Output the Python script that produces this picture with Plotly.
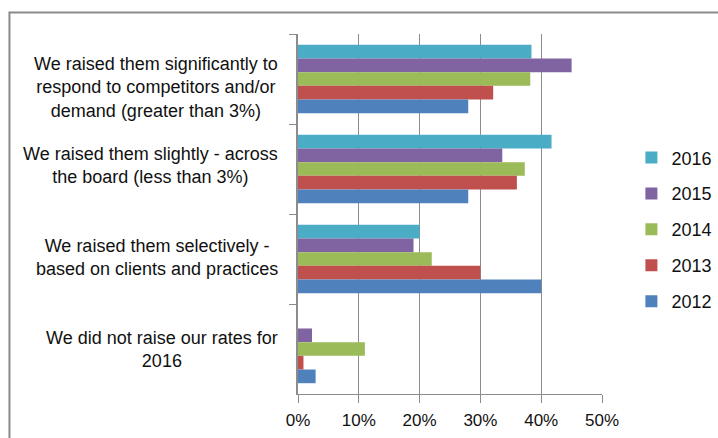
import plotly.graph_objects as go

# Survey answers (top to bottom) and share of respondents per year
categories = [
    "We raised them significantly to<br>respond to competitors and/or<br>demand (greater than 3%)",
    "We raised them slightly - across<br>the board (less than 3%)",
    "We raised them selectively -<br>based on clients and practices",
    "We did not raise our rates for<br>2016",
]
years = ["2016", "2015", "2014", "2013", "2012"]
share_2016 = [0.384, 0.417, 0.200, 0.0]
share_2015 = [0.450, 0.336, 0.190, 0.023]
share_2014 = [0.382, 0.373, 0.220, 0.110]
share_2013 = [0.321, 0.360, 0.300, 0.009]
share_2012 = [0.280, 0.280, 0.400, 0.029]
x_ticks = [0, 0.1, 0.2, 0.3, 0.4, 0.5]

series = [share_2016, share_2015, share_2014, share_2013, share_2012]
colors = ["#4BACC6", "#8064A2", "#9BBB59", "#C0504D", "#4F81BD"]

W, H = 718, 438
L, R, T, B = 297.5, 115.5, 33.5, 44
pw, ph = W - L - R, H - T - B
FONT = "Liberation Sans, Arial, sans-serif"
TXT = "#111111"
GRID = "#8c8c8c"


def px_x(p):
    return (p - L) / pw


def px_y(p):
    return (H - B - p) / ph


fig = go.Figure()
for name, vals, col in zip(years, series, colors):
    fig.add_trace(go.Bar(
        y=categories, x=vals, name=name, orientation="h",
        marker=dict(color=col, line=dict(width=0)),
        legendgroup=name,
    ))

# Category labels: block right-aligned next to the axis, lines centred
label_shift = [-8, 4, 2, 0]
for cat, dy in zip(categories, label_shift):
    fig.add_annotation(
        x=px_x(279), xref="paper", y=cat, yref="y",
        text=cat, showarrow=False, xanchor="right", yanchor="middle",
        align="center", yshift=dy,
        font=dict(family=FONT, size=18, color=TXT),
    )

# Outer chart frame (runs past the right and bottom edges)
fig.add_shape(
    type="rect", xref="paper", yref="paper",
    x0=px_x(8), x1=px_x(730), y0=px_y(450), y1=px_y(12),
    line=dict(color="#8a8a8a", width=2), fillcolor="rgba(0,0,0,0)",
    layer="below",
)

fig.update_layout(
    width=W, height=H,
    margin=dict(l=L, r=R, t=T, b=B, pad=0, autoexpand=False),
    barmode="group", bargap=0.24, bargroupgap=0,
    plot_bgcolor="white", paper_bgcolor="white",
    font=dict(family=FONT, size=18, color=TXT),
    legend=dict(
        x=px_x(632), y=px_y(139), xanchor="left", yanchor="top",
        traceorder="grouped", tracegroupgap=9.5,
        font=dict(family=FONT, size=18, color=TXT),
        bgcolor="rgba(0,0,0,0)",
    ),
    xaxis=dict(
        range=[0, 0.5], tickvals=x_ticks, tickformat=".0%",
        showgrid=True, gridcolor=GRID, gridwidth=1,
        zeroline=False, showline=True, linecolor=GRID, linewidth=1,
        ticks="outside", ticklen=8, tickcolor=GRID,
        ticklabelstandoff=3,
        tickfont=dict(family=FONT, size=17, color=TXT),
        fixedrange=True,
    ),
    yaxis=dict(
        autorange="reversed", showticklabels=False,
        showgrid=False, zeroline=False,
        showline=True, linecolor=GRID, linewidth=1.5,
        ticks="outside", tickson="boundaries", ticklen=7, tickcolor=GRID,
        fixedrange=True,
    ),
)

fig.write_html("out.html")
